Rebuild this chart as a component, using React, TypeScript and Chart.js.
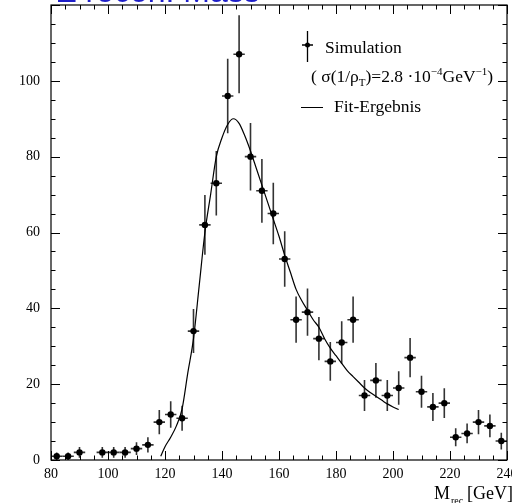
import React, { useEffect, useRef } from "react";
import { Chart, registerables } from "chart.js";

Chart.register(...registerables);

// Simulated histogram (bin centres in GeV) with statistical errors
const massBins = [82, 86, 90, 98, 102, 106, 110, 114, 118, 122, 126, 130, 134, 138, 142, 146, 150, 154, 158, 162, 166, 170, 174, 178, 182, 186, 190, 194, 198, 202, 206, 210, 214, 218, 222, 226, 230, 234, 238];
const counts = [1, 1, 2, 2, 2, 2, 3, 4, 10, 12, 11, 34, 62, 73, 96, 107, 80, 71, 65, 53, 37, 39, 32, 26, 31, 37, 17, 21, 17, 19, 27, 18, 14, 15, 6, 7, 10, 9, 5];
const countErrors = [1, 1, 1.4, 1.4, 1.4, 1.4, 1.7, 2, 3.2, 3.5, 3.3, 5.8, 7.9, 8.5, 9.8, 10.3, 8.9, 8.4, 8.1, 7.3, 6.1, 6.2, 5.7, 5.1, 5.6, 6.1, 4.1, 4.6, 4.1, 4.4, 5.2, 4.2, 3.7, 3.9, 2.4, 2.6, 3.2, 3, 2.2];
const binHalfWidth = 2;

// Fit curve
const fitMass = [118.5, 120, 122, 124, 126, 128, 130, 132, 134, 136, 138, 140, 142, 144, 146, 148, 150, 152, 154, 156, 158, 160, 162, 164, 166, 168, 170, 172, 174, 176, 178, 180, 182, 184, 186, 188, 190, 192, 194, 196, 198, 200, 202];
const fitValues = [1, 3.5, 6, 9, 13.5, 23, 32, 46, 60, 70, 80, 85, 88.5, 90, 88.8, 85.5, 81.5, 77, 72.5, 68, 63.5, 59, 54, 49.5, 45, 42, 39.5, 37, 35, 32, 29.5, 27.5, 25.5, 23.5, 22, 20.5, 19, 17.8, 16.8, 15.8, 14.8, 14, 13.3];

const xMin = 80;
const xMax = 240;
const yMin = 0;
const yMax = 120;
const minorStep = 5;
const majorStep = 20;

const titleText = "Z recon. Mass";
const legendSim = "Simulation";
const legendFit = "Fit-Ergebnis";

const SERIF = '"Liberation Serif", "Times New Roman", serif';

const physPlugin = {
  id: "physPlugin",
  beforeDatasetsDraw(chart: any) {
    const { ctx, scales, chartArea } = chart;
    const xs = scales.x;
    const ys = scales.y;
    ctx.save();
    ctx.beginPath();
    ctx.rect(chartArea.left, chartArea.top, chartArea.right - chartArea.left, chartArea.bottom - chartArea.top);
    ctx.clip();
    ctx.strokeStyle = "#333";
    ctx.lineWidth = 1.6;
    massBins.forEach((m, i) => {
      const c = counts[i];
      const e = countErrors[i];
      const px = xs.getPixelForValue(m);
      const py = ys.getPixelForValue(c);
      ctx.beginPath();
      ctx.moveTo(px, ys.getPixelForValue(c - e));
      ctx.lineTo(px, ys.getPixelForValue(c + e));
      ctx.moveTo(xs.getPixelForValue(m - binHalfWidth), py);
      ctx.lineTo(xs.getPixelForValue(m + binHalfWidth), py);
      ctx.stroke();
    });
    ctx.restore();
  },
  afterDraw(chart: any) {
    const { ctx, scales, chartArea } = chart;
    const xs = scales.x;
    const ys = scales.y;
    const { left, right, top, bottom } = chartArea;
    ctx.save();
    // frame
    ctx.strokeStyle = "#000";
    ctx.lineWidth = 1.2;
    ctx.strokeRect(left, top, right - left, bottom - top);
    // inward ticks
    ctx.lineWidth = 1;
    ctx.beginPath();
    xs.ticks.forEach((t: any) => {
      const v = t.value;
      const len = v % majorStep === 0 ? 9 : 4.5;
      const px = Math.round(xs.getPixelForValue(v)) + 0.5;
      ctx.moveTo(px, bottom);
      ctx.lineTo(px, bottom - len);
      ctx.moveTo(px, top);
      ctx.lineTo(px, top + len);
    });
    ys.ticks.forEach((t: any) => {
      const v = t.value;
      const len = v % majorStep === 0 ? 9 : 4.5;
      const py = Math.round(ys.getPixelForValue(v)) + 0.5;
      ctx.moveTo(left, py);
      ctx.lineTo(left + len, py);
      ctx.moveTo(right, py);
      ctx.lineTo(right - len, py);
    });
    ctx.stroke();

    // title (mostly outside the page)
    ctx.fillStyle = "#1e1ec8";
    ctx.font = '32px "Liberation Sans", Arial, sans-serif';
    ctx.textBaseline = "alphabetic";
    ctx.textAlign = "left";
    ctx.fillText(titleText, 57, 1.5);

    // legend
    ctx.fillStyle = "#000";
    ctx.strokeStyle = "#000";
    ctx.lineWidth = 1.3;
    ctx.beginPath();
    ctx.moveTo(307.5, 31);
    ctx.lineTo(307.5, 62);
    ctx.moveTo(302, 45);
    ctx.lineTo(313, 45);
    ctx.stroke();
    ctx.beginPath();
    ctx.arc(307.5, 45, 2.5, 0, Math.PI * 2);
    ctx.fill();

    const big = 17.5;
    const small = 11;
    ctx.font = `${big}px ${SERIF}`;
    ctx.fillText(legendSim, 325, 53);

    let x = 311;
    const base = 82;
    const seg = (txt: string, size: number, dy: number) => {
      ctx.font = `${size}px ${SERIF}`;
      ctx.fillText(txt, x, base + dy);
      x += ctx.measureText(txt).width;
    };
    seg("( \u03c3(1/\u03c1", big, 0);
    seg("T", small, 4);
    seg(")=2.8 \u00b710", big, 0);
    seg("\u22124", small, -7);
    seg("GeV", big, 0);
    seg("\u22121", small, -7);
    seg(")", big, 0);

    ctx.lineWidth = 1;
    ctx.beginPath();
    ctx.moveTo(301, 107.5);
    ctx.lineTo(323, 107.5);
    ctx.stroke();
    ctx.font = `${big}px ${SERIF}`;
    ctx.fillText(legendFit, 334, 112);

    // axis title
    ctx.font = `18px ${SERIF}`;
    ctx.fillText("M", 434, 499);
    ctx.font = `10px ${SERIF}`;
    ctx.fillText("rec", 451, 504);
    ctx.font = `18px ${SERIF}`;
    ctx.fillText("[GeV]", 467, 499);
    ctx.restore();
  },
};

const zeroPadding = (scale: any) => {
  scale.paddingTop = 0;
  scale.paddingBottom = 0;
  scale.paddingLeft = 0;
  scale.paddingRight = 0;
};

export default function App() {
  const canvasRef = useRef<HTMLCanvasElement | null>(null);

  useEffect(() => {
    const canvas = canvasRef.current;
    if (!canvas) return;
    const chart = new Chart(canvas, {
      type: "scatter",
      data: {
        datasets: [
          {
            label: "Simulation",
            data: massBins.map((m, i) => ({ x: m, y: counts[i] })),
            backgroundColor: "#000",
            borderColor: "#000",
            pointRadius: 3.2,
            pointHoverRadius: 3.2,
            pointBorderWidth: 0,
            showLine: false,
            order: 0,
          },
          {
            label: "Fit-Ergebnis",
            data: fitMass.map((m, i) => ({ x: m, y: fitValues[i] })),
            borderColor: "#000",
            borderWidth: 1.2,
            pointRadius: 0,
            showLine: true,
            tension: 0.4,
            cubicInterpolationMode: "monotone",
            order: 1,
          } as any,
        ],
      },
      options: {
        animation: false,
        responsive: true,
        maintainAspectRatio: false,
        layout: { padding: { top: 5, right: 5, left: 0, bottom: 0 } },
        plugins: {
          legend: { display: false },
          tooltip: { enabled: false },
          title: { display: false },
        },
        scales: {
          x: {
            type: "linear",
            min: xMin,
            max: xMax,
            grid: { display: false, drawTicks: false },
            border: { display: false },
            ticks: {
              stepSize: minorStep,
              autoSkip: false,
              maxRotation: 0,
              padding: 6,
              color: "#000",
              font: { family: SERIF, size: 14 },
              callback: (v: any) => (Number(v) % majorStep === 0 ? String(v) : ""),
            },
            afterFit: (scale: any) => {
              scale.height = 43;
              zeroPadding(scale);
            },
          },
          y: {
            type: "linear",
            min: yMin,
            max: yMax,
            grid: { display: false, drawTicks: false },
            border: { display: false },
            ticks: {
              stepSize: minorStep,
              autoSkip: false,
              padding: 11,
              color: "#000",
              font: { family: SERIF, size: 14 },
              callback: (v: any) => (Number(v) % majorStep === 0 && Number(v) < yMax ? String(v) : ""),
            },
            afterFit: (scale: any) => {
              scale.width = 51;
              zeroPadding(scale);
            },
          },
        },
      },
      plugins: [physPlugin],
    });
    return () => chart.destroy();
  }, []);

  return (
    <div style={{ position: "absolute", left: 0, top: 0, width: 512, height: 503, background: "#fff" }}>
      <canvas ref={canvasRef} />
    </div>
  );
}
